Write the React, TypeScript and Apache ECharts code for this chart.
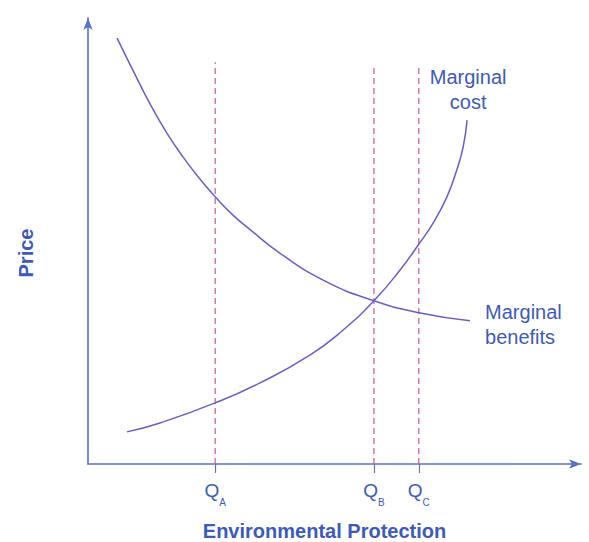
import React, { useEffect, useRef } from "react";
import * as echarts from "echarts";

// Quantity of environmental protection (x) and price (y), in chart units
const mbX = [5.9, 9.1, 12.6, 16.0, 19.3, 22.7, 25.8, 29.4, 32.5, 38.9, 48.1, 58.0, 67.1, 77.5];
const mbY = [95.5, 88.3, 80.7, 74.2, 68.8, 63.9, 59.9, 55.8, 52.9, 47.3, 41.0, 36.6, 33.9, 32.1];
const mcX = [7.9, 14.6, 25.8, 34.9, 45.0, 51.7, 58.0, 63.3, 67.3, 70.0, 72.8, 74.8, 76.1, 76.9];
const mcY = [7.2, 9.2, 13.7, 18.2, 24.4, 30.0, 36.6, 43.5, 49.6, 54.0, 59.9, 65.9, 71.1, 77.1];
const qNames = ["A", "B", "C"];
const qValues = [25.8, 58.0, 67.1];
const qTops = [90.1, 88.8, 88.8];
const xTitle = "Environmental Protection";
const yTitle = "Price";
const mcLabel = "Marginal\ncost";
const mbLabel = "Marginal\nbenefits";

const FONT = "'Liberation Sans', Arial, Helvetica, sans-serif";
const AXIS = "#5673c9";
const TEXT = "#3d5bb6";
const CURVE = "#6660c6";
const DASH = "#c8589d";

export default function App() {
  const ref = useRef<HTMLDivElement>(null);
  useEffect(() => {
    document.body.style.margin = "0";
    const chart = echarts.init(ref.current!, undefined, { renderer: "svg" });
    const mb = mbX.map((x, i) => [x, mbY[i]]);
    const mc = mcX.map((x, i) => [x, mcY[i]]);
    const dashSeries = qValues.map((q, i) => ({
      type: "line",
      data: [
        [q, 0],
        [q, qTops[i]],
      ],
      showSymbol: false,
      silent: true,
      lineStyle: { color: DASH, width: 1.2, type: [6, 4] },
    }));
    chart.setOption({
      animation: false,
      grid: { left: 88, right: 8, top: 18, bottom: 78, outerBoundsMode: "none" },
      xAxis: {
        type: "value",
        min: 0,
        max: 100,
        splitLine: { show: false },
        axisLine: {
          show: true,
          symbol: ["none", "arrow"],
          symbolSize: [7, 12],
          lineStyle: { color: AXIS, width: 1.6 },
        },
        axisTick: {
          show: true,
          customValues: qValues,
          length: 9,
          lineStyle: { color: "#7a68bb", width: 1.2 },
        },
        axisLabel: {
          show: true,
          customValues: qValues,
          margin: 16,
          formatter: (v: number) => {
            const i = qValues.findIndex((q) => Math.abs(q - v) < 1e-6);
            return "{q|Q}{s|" + (i >= 0 ? qNames[i] : "") + "}";
          },
          rich: {
            q: { fontSize: 19, fontFamily: FONT, color: TEXT, lineHeight: 20 },
            s: { fontSize: 10, fontFamily: FONT, color: TEXT, lineHeight: 10, padding: [25, 0, 0, 0] },
          },
        },
        name: xTitle,
        nameLocation: "middle",
        nameGap: 57,
        nameTextStyle: {
          fontFamily: FONT,
          fontSize: 20,
          fontWeight: "bold",
          color: TEXT,
          padding: [0, 20, 0, 0],
        },
      },
      yAxis: {
        type: "value",
        min: 0,
        max: 100,
        splitLine: { show: false },
        axisTick: { show: false },
        axisLabel: { show: false },
        axisLine: {
          show: true,
          symbol: ["none", "arrow"],
          symbolSize: [7, 12],
          lineStyle: { color: AXIS, width: 1.6 },
        },
        name: yTitle,
        nameLocation: "middle",
        nameRotate: 90,
        nameGap: 52,
        nameTextStyle: {
          fontFamily: FONT,
          fontSize: 20,
          fontWeight: "bold",
          color: TEXT,
          padding: [0, 24, 0, 0],
        },
      },
      series: [
        ...dashSeries,
        {
          type: "line",
          name: "Marginal benefits",
          data: mb,
          smooth: 0.5,
          showSymbol: false,
          lineStyle: { color: CURVE, width: 1.5 },
        },
        {
          type: "line",
          name: "Marginal cost",
          data: mc,
          smooth: 0.5,
          showSymbol: false,
          lineStyle: { color: CURVE, width: 1.5 },
        },
      ],
    });
    const mcEnd = chart.convertToPixel({ gridIndex: 0 }, mc[mc.length - 1]) as number[];
    const mbEnd = chart.convertToPixel({ gridIndex: 0 }, mb[mb.length - 1]) as number[];
    chart.setOption({
      graphic: [
        {
          type: "text",
          x: mcEnd[0] + 1,
          y: mcEnd[1] - 6,
          style: {
            text: mcLabel,
            fill: TEXT,
            font: "20px " + FONT,
            align: "center",
            verticalAlign: "bottom",
            lineHeight: 25,
          },
        },
        {
          type: "text",
          x: mbEnd[0] + 15,
          y: mbEnd[1] - 21,
          style: {
            text: mbLabel,
            fill: TEXT,
            font: "20px " + FONT,
            align: "left",
            verticalAlign: "top",
            lineHeight: 25,
          },
        },
      ],
    });
    return () => chart.dispose();
  }, []);
  return (
    <div
      ref={ref}
      style={{ position: "absolute", left: 0, top: 0, width: 589, height: 542, background: "#fff" }}
    />
  );
}
